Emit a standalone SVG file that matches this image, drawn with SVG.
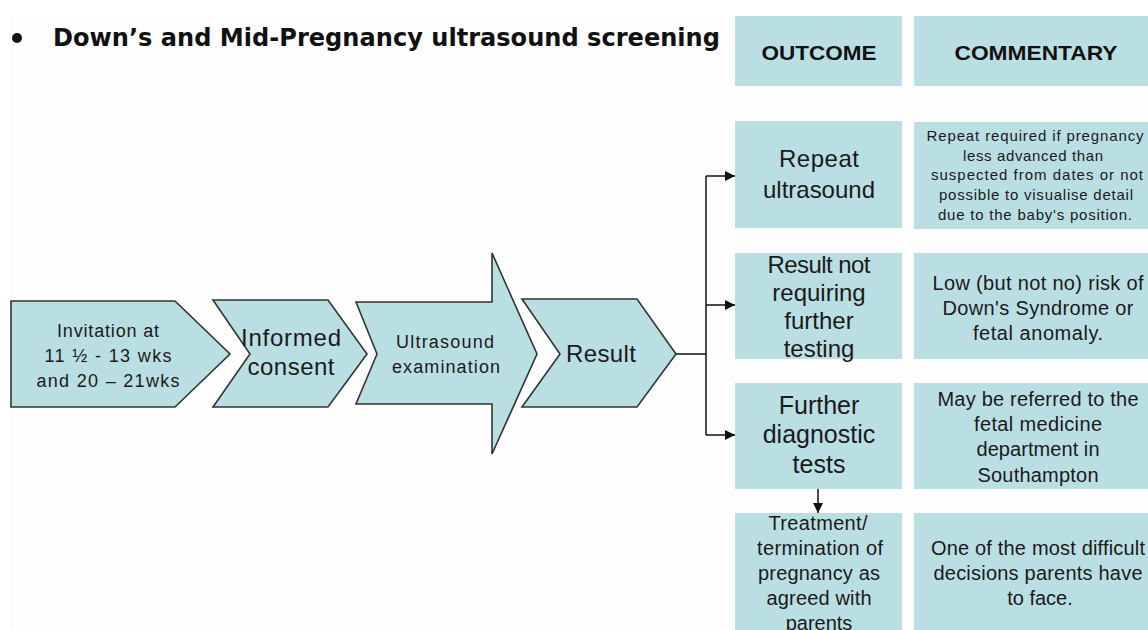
<svg xmlns="http://www.w3.org/2000/svg" width="1148" height="630" viewBox="0 0 1148 630">
<style>
.shape{fill:#badfe3;stroke:#333;stroke-width:1.6;stroke-linejoin:miter}
.box{fill:#badfe3}
.t{font-family:"Liberation Sans",Arial,sans-serif;fill:#1a1a1a;text-anchor:middle}
.hd{font-family:"Liberation Sans",Arial,sans-serif;font-weight:bold;fill:#111;text-anchor:middle;font-size:20px}
.title{font-family:"DejaVu Sans","Liberation Sans",sans-serif;font-weight:bold;fill:#111;font-size:24px}
.con{fill:none;stroke:#111;stroke-width:1.5}
</style>
<defs>
<marker id="ah" viewBox="0 0 10 10" refX="10" refY="5" markerWidth="11" markerHeight="10" markerUnits="userSpaceOnUse" orient="auto">
<path d="M0,0 L10,5 L0,10 Z" fill="#111"/>
</marker>
</defs>
<rect x="0" y="0" width="1148" height="630" fill="#ffffff"/>
<rect x="9" y="15" width="1139" height="615" fill="#fdfdfd"/>

<g id="title">
<circle cx="17" cy="38" r="5" fill="#111"/>
<text class="title" x="53" y="46" textLength="667" lengthAdjust="spacingAndGlyphs">Down’s and Mid-Pregnancy ultrasound screening</text>
</g>

<g id="hdr-outcome">
<rect class="box" x="735" y="16" width="167" height="70"/>
<text class="hd" x="819" y="60" textLength="115" lengthAdjust="spacingAndGlyphs">OUTCOME</text>
</g>
<g id="hdr-commentary">
<rect class="box" x="914" y="16" width="240" height="70"/>
<text class="hd" x="1036" y="60" textLength="163" lengthAdjust="spacingAndGlyphs">COMMENTARY</text>
</g>

<g id="invitation">
<path class="shape" d="M11,301 L175,301 L230,354 L175,407 L11,407 Z"/>
<text class="t" font-size="18" x="108" y="337" textLength="102" lengthAdjust="spacing">Invitation at</text>
<text class="t" font-size="18" x="108" y="362" textLength="127" lengthAdjust="spacing">11 ½ - 13 wks</text>
<text class="t" font-size="18" x="108" y="387" textLength="143" lengthAdjust="spacing">and 20 – 21wks</text>
</g>

<g id="consent">
<path class="shape" d="M213,300 L328,300 L367,354 L328,407 L213,407 L250,354 Z"/>
<text class="t" font-size="24" x="291" y="346" textLength="100" lengthAdjust="spacing">Informed</text>
<text class="t" font-size="24" x="291" y="375" textLength="87" lengthAdjust="spacing">consent</text>
</g>

<g id="ultrasound">
<path class="shape" d="M356,302 L492,302 L492,253 L537,354 L492,454 L492,404 L356,404 L377,354 Z"/>
<text class="t" font-size="18" x="445" y="348" textLength="98" lengthAdjust="spacing">Ultrasound</text>
<text class="t" font-size="18" x="446" y="373" textLength="108" lengthAdjust="spacing">examination</text>
</g>

<g id="result">
<path class="shape" d="M522,299 L637,299 L676,354 L637,407 L522,407 L560,354 Z"/>
<text class="t" font-size="24" x="601" y="362" textLength="70" lengthAdjust="spacing">Result</text>
</g>

<g id="repeat">
<rect class="box" x="735" y="121" width="167" height="107"/>
<text class="t" font-size="24" x="819" y="167" textLength="80" lengthAdjust="spacing">Repeat</text>
<text class="t" font-size="24" x="819" y="198" textLength="112" lengthAdjust="spacing">ultrasound</text>
</g>
<g id="repeat-comment">
<rect class="box" x="914" y="122" width="240" height="107"/>
<text class="t" font-size="15" x="1035" y="141" textLength="217" lengthAdjust="spacing">Repeat required if pregnancy</text>
<text class="t" font-size="15" x="1033" y="161" textLength="140" lengthAdjust="spacing">less advanced than</text>
<text class="t" font-size="15" x="1037" y="180" textLength="212" lengthAdjust="spacing">suspected from dates or not</text>
<text class="t" font-size="15" x="1036" y="200" textLength="194" lengthAdjust="spacing">possible to visualise detail</text>
<text class="t" font-size="15" x="1035" y="220" textLength="194" lengthAdjust="spacing">due to the baby's position.</text>
</g>

<g id="no-further">
<rect class="box" x="735" y="253" width="167" height="106"/>
<text class="t" font-size="24" x="819" y="273" textLength="103" lengthAdjust="spacing">Result not</text>
<text class="t" font-size="24" x="819" y="301">requiring</text>
<text class="t" font-size="24" x="819" y="329">further</text>
<text class="t" font-size="24" x="819" y="357">testing</text>
</g>
<g id="no-further-comment">
<rect class="box" x="914" y="253" width="240" height="106"/>
<text class="t" font-size="20" x="1038" y="290" textLength="211" lengthAdjust="spacing">Low (but not no) risk of</text>
<text class="t" font-size="20" x="1038" y="315" textLength="191" lengthAdjust="spacing">Down's Syndrome or</text>
<text class="t" font-size="20" x="1038" y="340" textLength="130" lengthAdjust="spacing">fetal anomaly.</text>
</g>

<g id="diagnostic">
<rect class="box" x="735" y="383" width="167" height="106"/>
<text class="t" font-size="25" x="819" y="414">Further</text>
<text class="t" font-size="25" x="819" y="443">diagnostic</text>
<text class="t" font-size="25" x="819" y="473">tests</text>
</g>
<g id="diagnostic-comment">
<rect class="box" x="914" y="383" width="240" height="106"/>
<text class="t" font-size="20" x="1038" y="406" textLength="201" lengthAdjust="spacing">May be referred to the</text>
<text class="t" font-size="20" x="1038" y="431" textLength="128" lengthAdjust="spacing">fetal medicine</text>
<text class="t" font-size="20" x="1038" y="456" textLength="123" lengthAdjust="spacing">department in</text>
<text class="t" font-size="20" x="1038" y="482" textLength="121" lengthAdjust="spacing">Southampton</text>
</g>

<g id="treatment">
<rect class="box" x="735" y="513" width="167" height="130"/>
<text class="t" font-size="20" x="818" y="530" textLength="99" lengthAdjust="spacing">Treatment/</text>
<text class="t" font-size="20" x="820" y="555" textLength="126" lengthAdjust="spacing">termination of</text>
<text class="t" font-size="20" x="819" y="580" textLength="122" lengthAdjust="spacing">pregnancy as</text>
<text class="t" font-size="20" x="819" y="605" textLength="105" lengthAdjust="spacing">agreed with</text>
<text class="t" font-size="20" x="819" y="630">parents</text>
</g>
<g id="treatment-comment">
<rect class="box" x="914" y="513" width="240" height="130"/>
<text class="t" font-size="20" x="1038" y="555" textLength="214" lengthAdjust="spacing">One of the most difficult</text>
<text class="t" font-size="20" x="1038" y="580" textLength="209" lengthAdjust="spacing">decisions parents have</text>
<text class="t" font-size="20" x="1040" y="605">to face.</text>
</g>

<g id="connectors">
<path class="con" d="M676,354 H706"/>
<path class="con" d="M706,176 V435"/>
<path class="con" d="M706,176 H735" marker-end="url(#ah)"/>
<path class="con" d="M706,305 H735" marker-end="url(#ah)"/>
<path class="con" d="M706,435 H735" marker-end="url(#ah)"/>
<path class="con" d="M818,489 V513" marker-end="url(#ah)"/>
</g>
</svg>
